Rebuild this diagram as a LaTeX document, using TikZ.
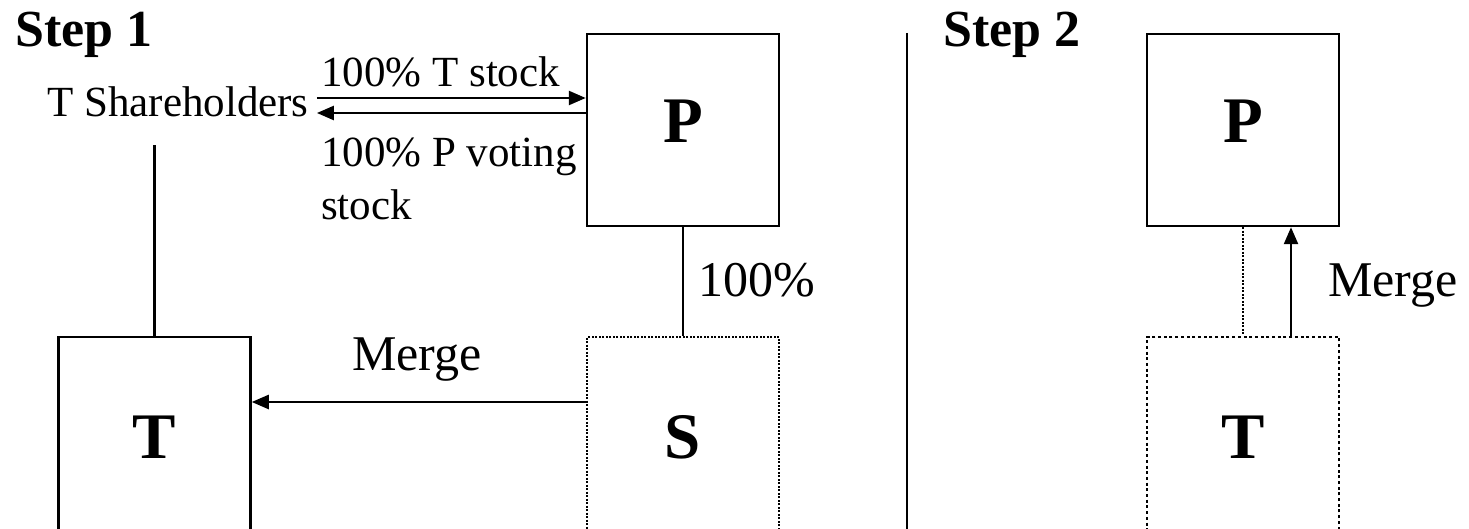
\documentclass[tikz,border=0pt]{standalone}
\usepackage{fontspec}
\setmainfont{Liberation Serif}
\usetikzlibrary{arrows.meta,positioning}
\tikzset{
  flow/.style={-{Triangle[length=17pt,width=14pt]},line width=2.5pt},
  link/.style={line width=2.5pt},
  dotlink/.style={line width=2pt,dash pattern=on 2pt off 1.5pt},
  topbox/.style={draw,line width=2.5pt,minimum width=192pt,minimum height=192pt,
    inner sep=0pt,text depth=18pt,font=\fontsize{65}{70}\selectfont\bfseries},
  botbox/.style={line width=2.5pt,minimum width=192pt,minimum height=200pt,
    inner sep=0pt,font=\fontsize{65}{70}\selectfont\bfseries},
  steptext/.style={anchor=base west,inner sep=0pt,font=\fontsize{52}{60}\selectfont\bfseries},
  smalltext/.style={anchor=base west,inner sep=0pt,align=left,font=\fontsize{43}{53}\selectfont},
  bigtext/.style={anchor=base west,inner sep=0pt,font=\fontsize{50}{58}\selectfont}
}

\begin{document}
\begin{tikzpicture}[x=1pt,y=-1pt]
\useasboundingbox (0,0) rectangle (1469,529);
\clip (0,0) rectangle (1469,529);
% step 1
\node[steptext] (step1) at (15,47) {Step 1};
\node[smalltext] (tsh) at (47,117) {T Shareholders};
\node[topbox] (p1) at (683,130) {P};
\node[botbox,draw] (t1) at (154.5,437) {T};
\node[botbox,draw,dotlink] (s1) at (683,437) {S};
\coordinate (tkin) at ([yshift=32pt]p1.west);
\coordinate (pkout) at ([yshift=17pt]p1.west);
\draw[flow] ([xshift=8pt]tkin -| tsh.east) -- (tkin);
\draw[flow] (pkout) -- ([xshift=8pt]pkout -| tsh.east);
\node[smalltext] (tstock) at (321,87) {100\% T stock};
\node[smalltext] (pstock) at (321,220) {100\% P voting\\stock};
\coordinate (tshfoot) at (154.5,145);
\draw[link] (t1.north) -- (tshfoot);
\draw[link] (p1.south) -- (s1.north);
\node[bigtext] (own) at (698,297) {100\%};
\coordinate (sin) at ([yshift=35pt]s1.west);
\draw[flow] (sin) -- (sin -| t1.east);
\node[bigtext] (merge1) at (352,370) {Merge};
% divider
\coordinate (divtop) at (907,33);
\coordinate (divbot) at (907,529);
\draw[link] (divtop) -- (divbot);
% step 2
\node[steptext] (step2) at (943,47) {Step 2};
\node[topbox] (p2) at (1243,130) {P};
\node[botbox,draw,line width=2.5pt,dash pattern=on 3pt off 2.7pt] (t2) at (1243,437) {T};
\draw[dotlink] (p2.south) -- (t2.north);
\draw[flow] ([xshift=48pt]t2.north) -- ([xshift=48pt]p2.south);
\node[bigtext] (merge2) at (1328,297) {Merge};
\end{tikzpicture}
\end{document}
